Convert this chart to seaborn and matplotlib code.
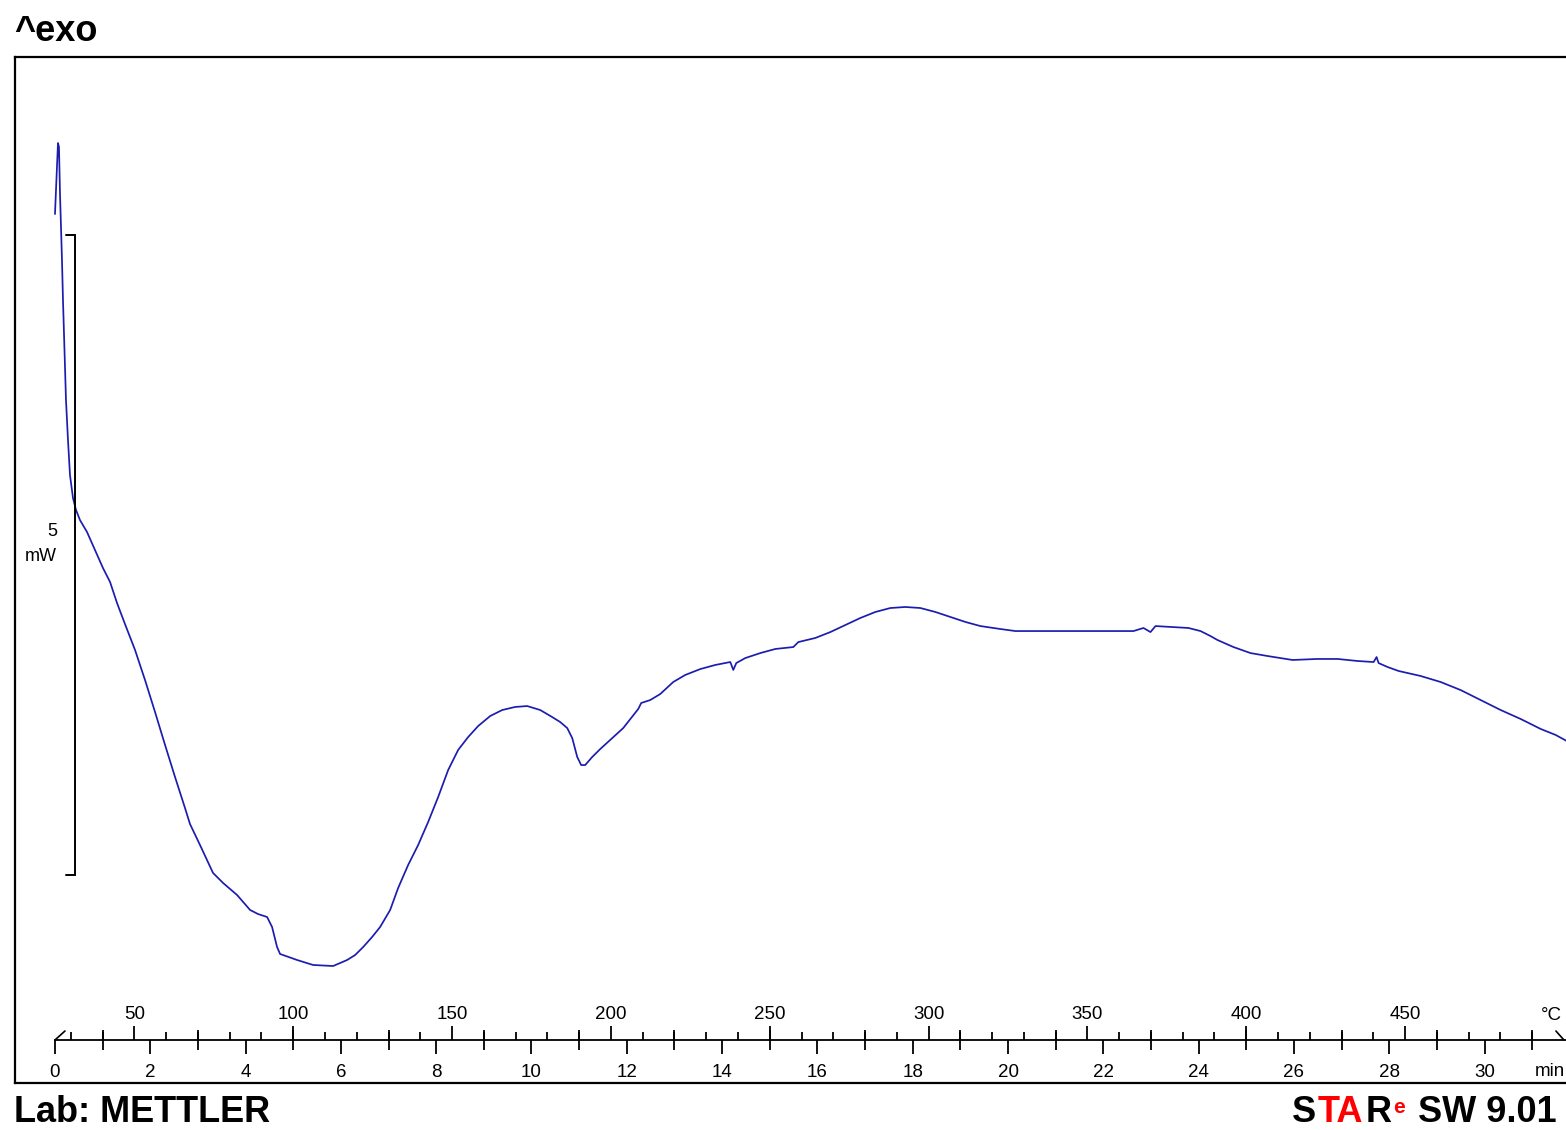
import numpy as np
import pandas as pd
import seaborn as sns
import matplotlib.pyplot as plt

# DSC curve: time in min, heat flow in mW (offset arbitrary)
time_min = [0.000, 0.042, 0.063, 0.084, 0.105, 0.147, 0.168, 0.199, 0.231, 0.273,
            0.315, 0.378, 0.441, 0.525, 0.672, 0.840, 1.008, 1.155, 1.302, 1.470,
            1.680, 1.890, 2.100, 2.310, 2.519, 2.729, 2.834, 3.044, 3.317, 3.527,
            3.821, 4.094, 4.262, 4.451, 4.556, 4.661, 4.724, 5.081, 5.417, 5.837,
            6.131, 6.299, 6.467, 6.656, 6.824, 7.034, 7.201, 7.411, 7.621, 7.831,
            8.041, 8.251, 8.461, 8.671, 8.881, 9.133, 9.385, 9.658, 9.910, 10.183,
            10.435, 10.603, 10.750, 10.855, 10.960, 11.043, 11.127, 11.274, 11.442, 11.652,
            11.925, 12.093, 12.240, 12.303, 12.492, 12.702, 12.975, 13.227, 13.542, 13.857,
            14.172, 14.235, 14.298, 14.487, 14.802, 15.117, 15.495, 15.600, 15.957, 16.271,
            16.586, 16.901, 17.216, 17.531, 17.846, 18.161, 18.476, 18.791, 19.106, 19.421,
            19.840, 20.155, 22.633, 22.843, 22.990, 23.095, 23.788, 24.040, 24.249, 24.396,
            24.732, 25.089, 25.446, 25.971, 26.496, 26.916, 27.336, 27.672, 27.735, 27.777,
            27.966, 28.197, 28.659, 29.079, 29.499, 29.919, 30.339, 30.759, 31.179, 31.494,
            31.725]
heat_mw = [5.164, 5.531, 5.719, 5.688, 5.328, 4.805, 4.492, 4.102, 3.711, 3.398,
           3.125, 2.945, 2.852, 2.773, 2.680, 2.539, 2.398, 2.290, 2.125, 1.960,
           1.758, 1.523, 1.273, 1.016, 0.766, 0.523, 0.398, 0.234, 0.016, -0.062,
           -0.156, -0.273, -0.305, -0.328, -0.406, -0.563, -0.617, -0.664, -0.703, -0.711,
           -0.664, -0.625, -0.563, -0.484, -0.406, -0.273, -0.102, 0.078, 0.234, 0.414,
           0.609, 0.820, 0.977, 1.078, 1.164, 1.242, 1.289, 1.313, 1.320, 1.289,
           1.234, 1.195, 1.148, 1.070, 0.922, 0.859, 0.859, 0.922, 0.984, 1.055,
           1.148, 1.227, 1.297, 1.344, 1.367, 1.414, 1.508, 1.563, 1.609, 1.641,
           1.664, 1.602, 1.656, 1.695, 1.734, 1.766, 1.781, 1.820, 1.852, 1.898,
           1.953, 2.008, 2.055, 2.086, 2.094, 2.086, 2.055, 2.016, 1.977, 1.945,
           1.922, 1.906, 1.906, 1.930, 1.898, 1.945, 1.930, 1.906, 1.867, 1.836,
           1.781, 1.734, 1.711, 1.680, 1.688, 1.688, 1.672, 1.664, 1.703, 1.656,
           1.625, 1.594, 1.555, 1.508, 1.445, 1.367, 1.289, 1.219, 1.141, 1.094,
           1.047]

time_major = list(range(0, 31, 2))
time_minor = list(range(1, 32, 2))
temp_major = [50, 100, 150, 200, 250, 300, 350, 400, 450]
temp_minor = [t for t in range(30, 500, 10) if t % 50 != 0]
temp_start = 25      # degC at t = 0
heat_rate = 15       # K/min
temp_end = 500
scale_mw = 5

sns.set_style('white', {'axes.edgecolor': 'black', 'text.color': 'black',
                        'xtick.color': 'black', 'axes.labelcolor': 'black'})
plt.rcParams['font.family'] = ['Liberation Sans', 'DejaVu Sans']

W, H = 1566, 1130
fig = plt.figure(figsize=(W / 100, H / 100), dpi=100)
ax = fig.add_axes([15 / W, 47 / H, 1551 / W, 1026 / H])

df = pd.DataFrame({'t': time_min, 'mW': heat_mw})
sns.lineplot(data=df, x='t', y='mW', sort=False, color='#1c1cb0', lw=1.25, ax=ax)

ax.set_xlim(-0.839, 31.71)
ax.set_ylim(-1.625, 6.391)
ax.set_xticks([])
ax.set_yticks([])
ax.set_xlabel('')
ax.set_ylabel('')
ax.spines['right'].set_visible(False)
for s in ['left', 'top', 'bottom']:
    ax.spines[s].set_linewidth(1.6)

# scale bar 5 mW
bar_t = 0.42
ax.plot([bar_t - 0.19, bar_t, bar_t, bar_t - 0.19], [scale_mw, scale_mw, 0, 0],
        color='black', lw=1.4, solid_joinstyle='miter')
ax.annotate(f'{scale_mw}\nmW', xy=(bar_t, scale_mw / 2), xytext=(-18, 11),
            textcoords='offset pixels', ha='right', va='center', multialignment='right',
            fontsize=13, linespacing=1.65)

# time / temperature axis inside the frame
loc = (1083 - 1040) / 1026
sec_t = ax.secondary_xaxis(loc)
sec_t.set_xticks(time_major, [str(v) for v in time_major])
sec_t.set_xticks(time_minor, minor=True)
sec_t.tick_params(which='major', direction='out', length=10, width=1.3, pad=7.5, labelsize=13.5)
sec_t.tick_params(which='minor', direction='inout', length=15, width=1.3)
sec_t.spines['bottom'].set_bounds(0, 31.71)
sec_t.spines['bottom'].set_linewidth(1.3)

sec_T = ax.secondary_xaxis(loc, functions=(lambda t: temp_start + heat_rate * np.asarray(t),
                                           lambda T: (np.asarray(T) - temp_start) / heat_rate))
sec_T.set_alignment('top')
sec_T.set_xticks(temp_major, [str(v) for v in temp_major])
sec_T.set_xticks(temp_minor, minor=True)
sec_T.tick_params(which='major', direction='out', length=10, width=1.3, pad=2, labelsize=13.5)
sec_T.tick_params(which='minor', direction='out', length=6, width=1.3)
sec_T.spines['top'].set_visible(False)

t_end = (temp_end - temp_start) / heat_rate
for t0, dx in [(0, 10), (t_end, -8)]:
    ax.annotate('', xy=(t0, loc), xycoords=('data', 'axes fraction'), xytext=(dx, 9),
                textcoords='offset pixels',
                arrowprops=dict(arrowstyle='-', lw=1.2, color='black', shrinkA=0, shrinkB=0))

fig.text(1541 / W, 1 - 1015 / H, '°C', ha='left', va='center', fontsize=13.5)
fig.text(1535 / W, 1 - 1071 / H, 'min', ha='left', va='center', fontsize=13.5)

# header / footer
fig.text(14 / W, 1 - 41 / H, '^exo', ha='left', va='baseline', fontsize=26, weight='bold')
fig.text(14 / W, 1 - 1122 / H, 'Lab: METTLER', ha='left', va='baseline', fontsize=26, weight='bold')

sw = fig.text(1557 / W, 1 - 1122 / H, 'SW 9.01', ha='right', va='baseline', fontsize=26, weight='bold')
e = ax.annotate('e', xy=(0, 1), xycoords=sw, xytext=(-13, -3), textcoords='offset pixels',
                ha='right', va='top', fontsize=15, color='red', weight='bold', annotation_clip=False)
prev = e
for txt, col in [('R', 'black'), ('TA', 'red'), ('S', 'black')]:
    prev = ax.annotate(txt, xy=(0, 0), xycoords=(prev, sw), xytext=(-2, 0),
                       textcoords='offset pixels', ha='right', va='bottom', fontsize=26,
                       weight='bold', color=col, annotation_clip=False)

fig.savefig('out.png', dpi=100)
